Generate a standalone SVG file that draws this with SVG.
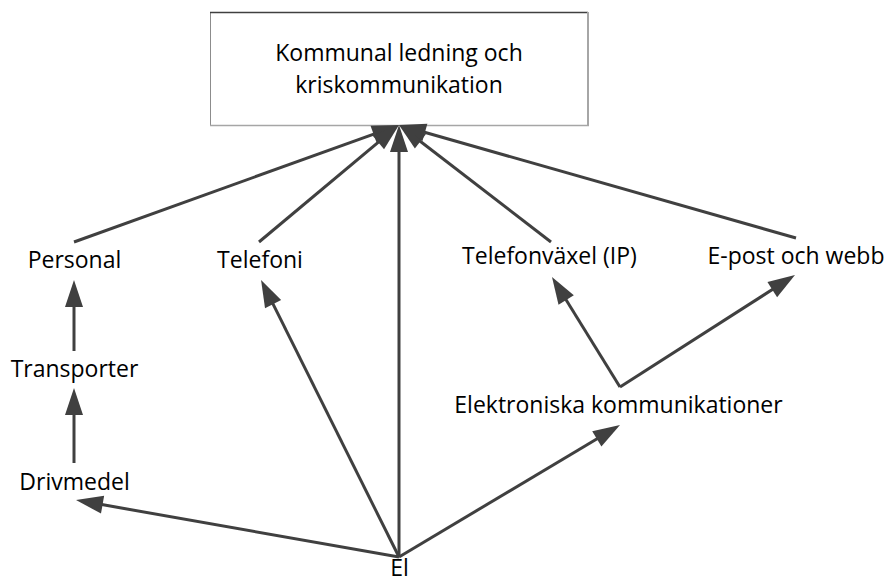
<svg xmlns="http://www.w3.org/2000/svg" width="887" height="583" viewBox="0 0 887 583">
<style>
text{font-family:"Open Sans","Liberation Sans",sans-serif;font-size:23px;fill:#000;text-anchor:middle}
.c line{stroke:#404040;stroke-width:3;marker-end:url(#ah)}
</style>
<defs>
<marker id="ah" markerUnits="userSpaceOnUse" markerWidth="27" markerHeight="18" refX="15" refY="9" orient="auto" overflow="visible">
<path d="M0,0 L27,9 L0,18 z" fill="#404040"/>
</marker>
</defs>
<rect width="887" height="583" fill="#fff"/>
<g id="kommunal">
<rect x="210.5" y="12.5" width="377" height="113" fill="#fff" stroke="#8c8c8c" stroke-width="1"/>
<line x1="210" y1="12.5" x2="588" y2="12.5" stroke="#404040" stroke-width="1.5"/>
<line x1="588" y1="12" x2="588" y2="126" stroke="#a6a6a6" stroke-width="2"/>
<line x1="210" y1="125.5" x2="589" y2="125.5" stroke="#a6a6a6" stroke-width="1.5"/>
<text x="399" y="61">Kommunal ledning och</text>
<text x="399" y="93">kriskommunikation</text>
</g>
<g class="c" id="connectors">
<line x1="74" y1="351" x2="74" y2="292"/>
<line x1="74" y1="463" x2="74" y2="400"/>
<line x1="399" y1="557" x2="87.8" y2="502.1"/>
<line x1="399" y1="557" x2="266.4" y2="290.7"/>
<line x1="399" y1="557" x2="399" y2="137"/>
<line x1="399" y1="557" x2="609.7" y2="431.2"/>
<line x1="620" y1="387" x2="558.3" y2="287.2"/>
<line x1="620" y1="387" x2="784.9" y2="281.5"/>
<line x1="74" y1="242" x2="387.7" y2="129.1"/>
<line x1="259" y1="242" x2="389.8" y2="132.7"/>
<line x1="551" y1="242" x2="408.5" y2="132.3"/>
<line x1="796" y1="238" x2="410.5" y2="128.3"/>
</g>
<g id="personal"><text x="74.5" y="268">Personal</text></g>
<g id="telefoni"><text x="260" y="268">Telefoni</text></g>
<g id="telefonvaxel"><text x="549.5" y="264">Telefonväxel (IP)</text></g>
<g id="epost"><text x="796" y="264">E-post och webb</text></g>
<g id="transporter"><text x="74.5" y="377">Transporter</text></g>
<g id="elektroniska"><text x="618.5" y="413">Elektroniska kommunikationer</text></g>
<g id="drivmedel"><text x="74.5" y="490">Drivmedel</text></g>
<g id="el"><text x="399.5" y="576">El</text></g>
</svg>
